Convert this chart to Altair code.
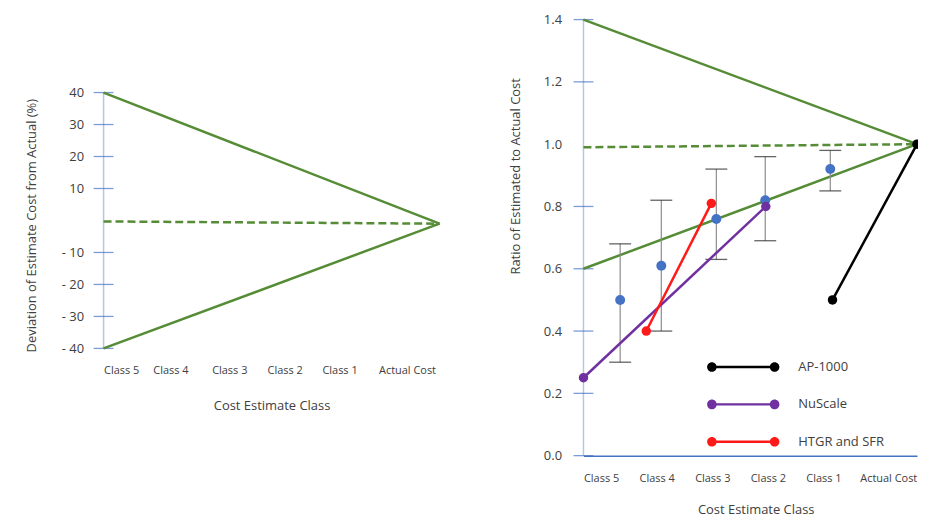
import altair as alt
import pandas as pd

FONT = "Open Sans"
TXT = "#404040"
GREEN = "#558c35"

# ---------------- data ----------------
class_labels = ["Class 5", "Class 4", "Class 3", "Class 2", "Class 1", "Actual Cost"]
left_label_pos = [0.0, 0.88, 1.93, 2.92, 3.9, 4.91]
right_label_pos = [0.0, 1.0, 2.0, 3.0, 4.0, 4.97]

left_ticks = [40, 30, 20, 10, -10, -20, -30, -40]
right_ticks = [1.4, 1.2, 0.8, 0.6, 0.4, 0.2, 0.0]
right_tick_labels = [0.0, 0.2, 0.4, 0.6, 0.8, 1.0, 1.2, 1.4]

env_x = [0, 6]
left_upper = [40, -1]
left_lower = [-40, -1]
left_mid = [-0.3, -1]
right_upper = [1.4, 1.0]
right_lower = [0.6, 1.0]
right_mid = [0.99, 1.0]

class_x = [0.66, 1.40, 2.39, 3.27, 4.44]
est_mean = [0.50, 0.61, 0.76, 0.82, 0.92]
est_low = [0.30, 0.40, 0.63, 0.69, 0.85]
est_high = [0.68, 0.82, 0.92, 0.96, 0.98]

series_names = ["AP-1000", "NuScale", "HTGR and SFR"]
series_colors = ["#000000", "#7030a0", "#ff1a1a"]
ap_x = [4.48, 6.0]
ap_y = [0.50, 1.0]
nu_x = [0.0, 3.28]
nu_y = [0.25, 0.80]
ht_x = [1.13, 2.30]
ht_y = [0.40, 0.81]

# ---------------- helpers ----------------
def env_df(upper, lower, mid):
    rows = []
    for name, ys in (("upper", upper), ("lower", lower), ("mid", mid)):
        for x, y in zip(env_x, ys):
            rows.append({"x": x, "y": y, "line": name})
    return pd.DataFrame(rows)


def label_expr(positions):
    labs = "[" + ",".join("'" + c + "'" for c in class_labels) + "]"
    pos = "[" + ",".join(str(p) for p in positions) + "]"
    return labs + "[indexof(" + pos + ", datum.value)]"


L_W, R_W, H = 337.4, 335, 445.5
L_DOM = [-73.53, 65.15]
R_DOM = [0, 1.424]

left_x_axis = alt.Axis(
    values=left_label_pos, labelExpr=label_expr(left_label_pos), domain=False,
    ticks=False, tickSize=0, grid=False, labelAlign="left", labelPadding=16,
    labelFontSize=11, labelFont=FONT, labelColor=TXT, offset=-107.7,
    title="Cost Estimate Class", titleFont=FONT, titleFontSize=13,
    titleFontWeight="normal", titleColor=TXT, titleY=51, titleBaseline="top",
)
left_y_axis = alt.Axis(
    values=left_ticks,
    labelExpr="datum.value < 0 ? '- ' + abs(datum.value) : '' + datum.value",
    domain=False, ticks=False, tickSize=0, grid=False, labelPadding=20,
    labelFontSize=13, labelFont=FONT, labelColor=TXT,
    title="Deviation of Estimate Cost from Actual (%)", titleFont=FONT,
    titleFontSize=13, titleFontWeight="normal", titleColor=TXT,
    titleX=-68, titleY=214, titleBaseline="alphabetic",
)
right_x_axis = alt.Axis(
    values=right_label_pos, labelExpr=label_expr(right_label_pos), domain=True,
    domainColor="#4472c4", domainWidth=1.5, ticks=False, tickSize=0, grid=False,
    labelAlign="left", labelPadding=17, labelFontSize=11, labelFont=FONT,
    labelColor=TXT, title="Cost Estimate Class", titleFont=FONT, titleFontSize=13,
    titleFontWeight="normal", titleColor=TXT, titleY=48, titleX=173,
    titleBaseline="top",
)
right_y_axis = alt.Axis(
    values=right_tick_labels, format=".1f", domain=False, ticks=False, tickSize=0,
    grid=False, labelPadding=22, labelFontSize=13, labelFont=FONT, labelColor=TXT,
    title="Ratio of Estimated to Actual Cost", titleFont=FONT, titleFontSize=13,
    titleFontWeight="normal", titleColor=TXT, titleX=-64.7, titleY=164.5,
    titleBaseline="alphabetic",
)


def X(field, side):
    return alt.X(field, type="quantitative",
                 scale=alt.Scale(domain=[0, 6], nice=False, zero=False),
                 axis=left_x_axis if side == "L" else right_x_axis)


def Y(field, side):
    return alt.Y(field, type="quantitative",
                 scale=alt.Scale(domain=L_DOM if side == "L" else R_DOM, nice=False, zero=False),
                 axis=left_y_axis if side == "L" else right_y_axis)


def axis_layers(side, ticks):
    line_df = pd.DataFrame({"x": [0], "y": [min(ticks)], "y2": [max(ticks)]})
    tick_df = pd.DataFrame({"x": [0] * len(ticks), "y": ticks})
    rule = alt.Chart(line_df).mark_rule(color="#b4c7e7", strokeWidth=1.5).encode(
        x=X("x", side), y=Y("y", side), y2="y2")
    tk = alt.Chart(tick_df).mark_tick(orient="horizontal", size=20, thickness=1.3,
                                      color="#4472c4").encode(x=X("x", side), y=Y("y", side))
    return [rule, tk]


def env_layers(side, df):
    solid = alt.Chart(df[df.line != "mid"]).mark_line(color=GREEN, strokeWidth=2.5).encode(
        x=X("x", side), y=Y("y", side), detail="line:N")
    dashed = alt.Chart(df[df.line == "mid"]).mark_line(
        color=GREEN, strokeWidth=2.5, strokeDash=[8, 4]).encode(x=X("x", side), y=Y("y", side))
    return [solid, dashed]


# ---------------- left panel ----------------
left = alt.layer(
    *axis_layers("L", left_ticks),
    *env_layers("L", env_df(left_upper, left_lower, left_mid)),
).properties(width=L_W, height=H)

# ---------------- right panel ----------------
est_df = pd.DataFrame({"x": class_x, "mean": est_mean, "low": est_low, "high": est_high})
rows = []
for name, xs, ys in zip(series_names, (ap_x, nu_x, ht_x), (ap_y, nu_y, ht_y)):
    for x, y in zip(xs, ys):
        rows.append({"series": name, "x": x, "y": y})
ser_df = pd.DataFrame(rows)

color_scale = alt.Scale(domain=series_names, range=series_colors)
legend_path = ("M-6.3,-0.25L6.3,-0.25L6.3,0.25L-6.3,0.25Z"
               "M-7.26,0A0.96,0.96,0,1,1,-5.34,0A0.96,0.96,0,1,1,-7.26,0Z"
               "M5.34,0A0.96,0.96,0,1,1,7.26,0A0.96,0.96,0,1,1,5.34,0Z")

stems = alt.Chart(est_df).mark_rule(color="#8c8c8c", strokeWidth=1.2).encode(
    x=X("x", "R"), y=Y("low", "R"), y2="high")
cap_hi = alt.Chart(est_df).mark_tick(orient="horizontal", size=22, thickness=1.3,
                                     color="#222222").encode(x=X("x", "R"), y=Y("high", "R"))
cap_lo = alt.Chart(est_df).mark_tick(orient="horizontal", size=22, thickness=1.3,
                                     color="#222222").encode(x=X("x", "R"), y=Y("low", "R"))
est_pts = alt.Chart(est_df).mark_circle(size=100, color="#4472c4", opacity=1).encode(
    x=X("x", "R"), y=Y("mean", "R"))

ser_lines = [
    alt.Chart(ser_df[ser_df.series == name]).mark_line(strokeWidth=2.5, color=col).encode(
        x=X("x", "R"), y=Y("y", "R"))
    for name, col in zip(series_names, series_colors)
]
ser_pts = alt.Chart(ser_df).mark_circle(size=90, opacity=1).encode(
    x=X("x", "R"), y=Y("y", "R"),
    fill=alt.Fill("series:N", scale=color_scale, legend=alt.Legend(
        title=None, orient="none", legendX=122.5, legendY=350, direction="vertical",
        symbolType=legend_path, symbolSize=100, symbolStrokeWidth=0, symbolOpacity=1,
        symbolOffset=31.5, labelOffset=48.8, labelFontSize=13, labelFont=FONT,
        labelColor=TXT, rowPadding=23.5, padding=0, labelLimit=300)))

right = alt.layer(
    *axis_layers("R", right_ticks),
    *env_layers("R", env_df(right_upper, right_lower, right_mid)),
    stems, cap_hi, cap_lo, est_pts, *ser_lines, ser_pts,
).properties(width=R_W, height=H)

chart = alt.hconcat(left, right, spacing=64).resolve_scale(
    fill="independent"
).resolve_legend(fill="independent").properties(
    padding={"left": 18, "top": 3, "right": -4, "bottom": 0},
    background="white",
).configure_view(strokeWidth=0)

chart.save("out.html", embed_options={"renderer": "svg", "actions": False})
